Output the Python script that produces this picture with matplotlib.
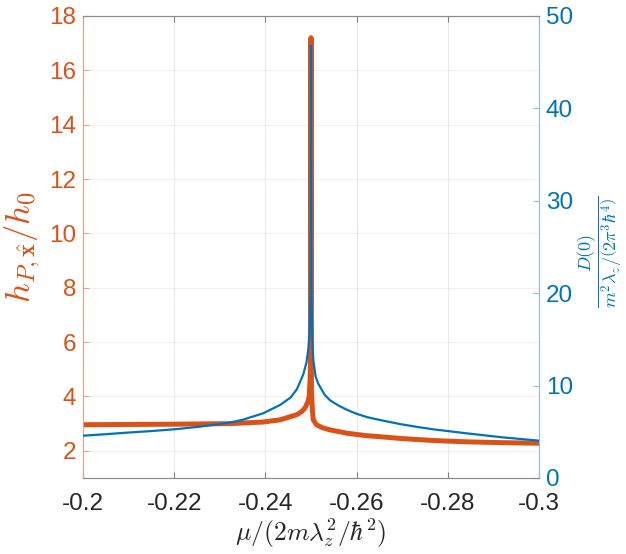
import matplotlib
matplotlib.use("Agg")
import matplotlib.pyplot as plt
from matplotlib.ticker import FixedLocator

plt.rcParams['font.family'] = ['Liberation Sans', 'DejaVu Sans']
plt.rcParams['mathtext.fontset'] = 'cm'

# ---- data ----
mu_h = [-0.2, -0.21, -0.22, -0.2322, -0.2395, -0.2432, -0.2469, -0.2480, -0.2487,
        -0.2493, -0.2496, -0.2498, -0.2499, -0.24995, -0.25, -0.25005, -0.2501,
        -0.2503, -0.2505, -0.2512, -0.2525, -0.2542, -0.2578, -0.2620, -0.2651,
        -0.2700, -0.2768, -0.2842, -0.2920, -0.3]
h_vals = [2.96, 2.97, 2.98, 3.0, 3.06, 3.14, 3.33, 3.45, 3.58,
          3.8, 4.0, 4.6, 5.5, 7.5, 17.2, 6.0, 4.2,
          3.5, 3.14, 2.96, 2.85, 2.77, 2.65, 2.56, 2.52,
          2.45, 2.38, 2.33, 2.30, 2.28]

mu_d = [-0.2, -0.205, -0.21, -0.215, -0.22, -0.225, -0.23, -0.2322, -0.235, -0.2395,
        -0.2432, -0.2455, -0.2469, -0.2483, -0.2490, -0.2494, -0.2497, -0.2499,
        -0.24995, -0.25, -0.25005, -0.2501, -0.2503, -0.2505, -0.2510, -0.2516,
        -0.2530, -0.2542, -0.2560, -0.2578, -0.2600, -0.2622, -0.2640, -0.2651,
        -0.2695, -0.2730, -0.2768, -0.2800, -0.2842, -0.2880, -0.2920, -0.2960, -0.3]
d_vals = [4.58, 4.74, 4.92, 5.08, 5.27, 5.52, 5.84, 6.0, 6.3, 7.0,
          7.9, 8.7, 9.6, 11.2, 12.5, 13.9, 16.0, 20.0,
          26.0, 46.8, 26.0, 20.0, 15.0, 12.8, 11.0, 10.2,
          9.0, 8.4, 7.85, 7.4, 6.95, 6.6, 6.4, 6.28,
          5.84, 5.55, 5.27, 5.08, 4.83, 4.62, 4.4, 4.22, 4.04]

xticks = [-0.2, -0.22, -0.24, -0.26, -0.28, -0.3]
xtick_labels = ['-0.2', '-0.22', '-0.24', '-0.26', '-0.28', '-0.3']
left_ticks = [2, 4, 6, 8, 10, 12, 14, 16, 18]
right_ticks = [0, 10, 20, 30, 40, 50]

ORANGE = '#D95319'
BLUE = '#0072BD'
DARK = '#262626'

fig = plt.figure(figsize=(6.26, 5.54), dpi=100)
ax = fig.add_axes([83/626, 1-478/554, (539-83)/626, (478-16)/554])
ax2 = ax.twinx()

ax.plot(mu_h, h_vals, color=ORANGE, lw=3.6, solid_capstyle='round', zorder=3)
ax2.plot(mu_d, d_vals, color=BLUE, lw=1.6, zorder=3)

ax.set_xlim(-0.2, -0.3)
ax.set_ylim(1, 18)
ax2.set_ylim(0, 50)

ax.xaxis.set_major_locator(FixedLocator(xticks))
ax.set_xticklabels(xtick_labels)
ax.yaxis.set_major_locator(FixedLocator(left_ticks))
ax2.yaxis.set_major_locator(FixedLocator(right_ticks))

fs = 17.5
ax.tick_params(axis='x', direction='in', length=4, colors='#808080', labelcolor=DARK,
               labelsize=fs, pad=11, top=True, width=0.8)
ax.tick_params(axis='y', direction='in', length=4, colors='#E8A585', labelcolor=ORANGE,
               labelsize=fs, pad=5, width=0.8)
ax2.tick_params(axis='y', direction='in', length=4, colors='#8DBFE3', labelcolor=BLUE,
                labelsize=fs, pad=5, width=0.8)

# grid
for xv in xticks:
    ax.axvline(xv, color=DARK, alpha=0.1, lw=0.8, zorder=0)
for yv in left_ticks:
    ax.axhline(yv, color=ORANGE, alpha=0.1, lw=0.8, zorder=0)

for a in (ax, ax2):
    a.spines['top'].set_color('#8c8c8c')
    a.spines['bottom'].set_color('#8c8c8c')
    a.spines['left'].set_color('#E8A585')
    a.spines['right'].set_color('#8DBFE3')
    for s in a.spines.values():
        s.set_linewidth(0.8)

ax.set_xlabel(r'$\mu/(2m\lambda_z^2/\hbar^2)$', fontsize=18.5, color=DARK, labelpad=1)
ax.set_ylabel(r'$h_{P,\hat{\mathbf{x}}}/h_0$', fontsize=25, color=ORANGE, labelpad=4)
fig.text(600/626, 1-252/554,
         r'$\dfrac{D(0)}{m^2\lambda_z/\left(2\pi^3\hbar^4\right)}$', fontsize=13,
         color=BLUE, rotation=90, ha='center', va='center')

fig.savefig('out.png', dpi=100)
